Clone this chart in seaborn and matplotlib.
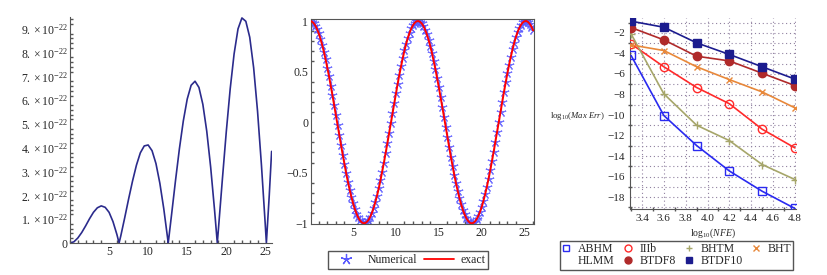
import numpy as np
import pandas as pd
import matplotlib
matplotlib.use("Agg")
import matplotlib.pyplot as plt
from matplotlib.lines import Line2D
from matplotlib.ticker import MultipleLocator, FuncFormatter
import seaborn as sns

sns.set_theme(style="white")
plt.rcParams['font.family'] = ['Liberation Serif', 'DejaVu Serif']
plt.rcParams['mathtext.fontset'] = 'custom'
plt.rcParams['mathtext.rm'] = 'Liberation Serif'
plt.rcParams['mathtext.it'] = 'Liberation Serif:italic'
plt.rcParams['axes.unicode_minus'] = True

# ------------------------------------------------------------------
# Data
# ------------------------------------------------------------------
# panel 1: absolute error, in units of 1e-22
err_t = [0, 0.5, 1.0, 1.5, 2.0, 2.5, 3.0, 3.5, 4.0, 4.5, 5.0, 5.5, 6.0, 6.28,
         6.5, 7.0, 7.5, 8.0, 8.5, 9.0, 9.5, 10.0, 10.5, 11.0, 11.5, 12.0, 12.5, 12.57,
         13.0, 13.5, 14.0, 14.5, 15.0, 15.5, 16.0, 16.5, 17.0, 17.5, 18.0, 18.5, 18.85,
         19.0, 19.5, 20.0, 20.5, 21.0, 21.5, 22.0, 22.5, 23.0, 23.5, 24.0, 24.5, 25.0, 25.13,
         25.5, 25.8]
err_val = [0, 0.05, 0.21, 0.44, 0.72, 1.02, 1.29, 1.48, 1.56, 1.50, 1.29, 0.90, 0.36, 0.0,
           0.30, 1.06, 1.85, 2.60, 3.27, 3.79, 4.08, 4.12, 3.88, 3.34, 2.51, 1.44, 0.18, 0.0,
           1.20, 2.62, 3.96, 5.13, 6.05, 6.63, 6.80, 6.54, 5.83, 4.70, 3.19, 1.38, 0.0,
           0.61, 2.68, 4.68, 6.48, 7.95, 9.00, 9.46, 9.32, 8.65, 7.37, 5.54, 3.27, 0.71, 0.0,
           2.01, 3.85]
ERR_SCALE = 1e-22

# panel 2: numerical solution vs exact (sampled every 0.2 in t)
sol_t = np.linspace(0, 26, 131)
sol_val = [1.000, 0.995, 0.980, 0.955, 0.921, 0.878, 0.825, 0.765, 0.697, 0.622,
           0.540, 0.454, 0.362, 0.267, 0.170, 0.071, -0.029, -0.129, -0.227, -0.323,
           -0.416, -0.505, -0.589, -0.666, -0.737, -0.801, -0.857, -0.904, -0.942, -0.971,
           -0.990, -0.999, -0.998, -0.987, -0.967, -0.936, -0.897, -0.848, -0.791, -0.726,
           -0.654, -0.575, -0.490, -0.401, -0.307, -0.211, -0.112, -0.012, 0.087, 0.187,
           0.284, 0.378, 0.469, 0.554, 0.635, 0.709, 0.776, 0.835, 0.886, 0.927,
           0.960, 0.983, 0.997, 1.000, 0.993, 0.977, 0.951, 0.914, 0.869, 0.816,
           0.754, 0.685, 0.608, 0.526, 0.439, 0.347, 0.252, 0.154, 0.054, -0.046,
           -0.146, -0.244, -0.340, -0.432, -0.520, -0.602, -0.678, -0.748, -0.811, -0.866,
           -0.911, -0.948, -0.975, -0.993, -1.000, -0.997, -0.984, -0.961, -0.928, -0.887,
           -0.839, -0.780, -0.714, -0.641, -0.561, -0.476, -0.385, -0.291, -0.194, -0.095,
           0.004, 0.104, 0.203, 0.300, 0.394, 0.484, 0.569, 0.648, 0.721, 0.786,
           0.844, 0.894, 0.934, 0.965, 0.987, 0.998, 1.000, 0.991, 0.973, 0.945,
           0.907]

# panel 3: log10(max err) vs log10(NFE)
log_nfe = [3.3, 3.6, 3.9, 4.2, 4.5, 4.8]
abhm = [-4.2, -10.05, -12.97, -15.45, -17.42, -19.1]
iiib = [-3.07, -5.3, -7.32, -8.9, -11.38, -13.2]
bhtm = [-2.1, -7.94, -10.99, -12.49, -14.82, -16.28]
bht = [-3.17, -3.72, -5.3, -6.55, -7.75, -9.3]
btdf8 = [-1.48, -2.68, -4.27, -4.73, -5.93, -7.13]
btdf10 = [-0.86, -1.45, -2.97, -4.1, -5.3, -6.5]

# ------------------------------------------------------------------
W, H = 828, 275
fig = plt.figure(figsize=(W / 100, H / 100), dpi=100)

def px_axes(left, top, right, bottom):
    return fig.add_axes([left / W, 1 - bottom / H, (right - left) / W, (bottom - top) / H])

FS = 8.5

# ---------------- panel 1 ----------------
ax1 = px_axes(70, 17, 272, 243)
sns.lineplot(x=err_t, y=np.array(err_val) * ERR_SCALE, ax=ax1, color='#2b2b8c', lw=1.2)
ax1.set_xlim(0, 25.85)
ax1.set_ylim(0, 9.5e-22)
ax1.set_xticks([5, 10, 15, 20, 25])
ax1.xaxis.set_minor_locator(MultipleLocator(1))
ax1.set_yticks([k * ERR_SCALE for k in range(10)])
ax1.yaxis.set_minor_locator(MultipleLocator(0.2e-22))

def err_fmt(v, pos):
    k = int(round(v / ERR_SCALE))
    if k == 0:
        return '0'
    return r'$%d.\times10^{-22}$' % k

ax1.yaxis.set_major_formatter(FuncFormatter(err_fmt))
for s in ['top', 'right']:
    ax1.spines[s].set_visible(False)
for s in ['left', 'bottom']:
    ax1.spines[s].set_color('#555555')
    ax1.spines[s].set_linewidth(0.8)
ax1.tick_params(which='both', direction='in', color='#555555', labelsize=FS, pad=2)
ax1.tick_params(which='major', length=4)
ax1.tick_params(which='minor', length=2, bottom=True, left=True)

# ---------------- panel 2 ----------------
ax2 = px_axes(311, 19, 534, 224)
sns.lineplot(x=sol_t, y=sol_val, ax=ax2, color='red', lw=1.4, zorder=3)
sns.lineplot(x=sol_t, y=sol_val, ax=ax2, linestyle='none', marker=(5, 2, 0),
             markersize=7, markeredgecolor='#5a5aff', markerfacecolor='#5a5aff',
             markeredgewidth=0.8, alpha=0.85, zorder=2)
ax2.set_xlim(0.1, 26.1)
ax2.set_ylim(-1.007, 1.02)
ax2.set_xticks([5, 10, 15, 20, 25])
ax2.xaxis.set_minor_locator(MultipleLocator(1))
ax2.set_yticks([-1, -0.5, 0, 0.5, 1])
ax2.set_yticklabels(['\u22121', '\u22120.5', '0', '0.5', '1'])
ax2.yaxis.set_minor_locator(MultipleLocator(0.1))
for s in ax2.spines.values():
    s.set_color('#555555')
    s.set_linewidth(0.8)
ax2.tick_params(which='both', direction='in', color='#555555', labelsize=FS, pad=2)
ax2.tick_params(which='major', length=4)
ax2.tick_params(which='minor', length=2, bottom=True, left=True)

leg2_handles = [
    Line2D([], [], linestyle='none', marker=(5, 2, 0), markersize=8,
           markeredgecolor='#5a5aff', markerfacecolor='#5a5aff', markeredgewidth=0.9),
    Line2D([], [], color='red', lw=1.3),
]
fig.legend(leg2_handles, ['Numerical', 'exact'], loc='center',
           bbox_to_anchor=(408 / W, 1 - 260 / H), ncol=2, fontsize=FS,
           frameon=True, fancybox=False, edgecolor='#555555', handlelength=2.6,
           handletextpad=0.5, columnspacing=0.6, borderpad=0.25, framealpha=1)

# ---------------- panel 3 ----------------
ax3 = px_axes(630, 18, 796, 209)
series = [
    ('ABHM', abhm, '#2a2af0', 's', 'none', 6),
    ('IIIb', iiib, '#ff2a2a', 'o', 'none', 6),
    ('BHTM', bhtm, '#a6a66a', '+', None, 6),
    ('BHT', bht, '#e8883a', 'x', None, 5),
    ('BTDF8', btdf8, '#b02a2a', 'o', 'fill', 6),
    ('BTDF10', btdf10, '#1c1c8e', 's', 'fill', 6),
]
for name, vals, col, mk, fc, ms in series:
    face = 'none' if fc == 'none' else col
    sns.lineplot(x=log_nfe, y=vals, ax=ax3, color=col, lw=1.2, marker=mk,
                 markersize=ms, markeredgecolor=col, markerfacecolor=face,
                 markeredgewidth=1.0, zorder=3)
ax3.set_xlim(3.29, 4.81)
ax3.set_ylim(-19.15, -0.55)
ax3.set_xticks([3.4, 3.6, 3.8, 4.0, 4.2, 4.4, 4.6, 4.8])
ax3.set_xticklabels(['3.4', '3.6', '3.8', '4.0', '4.2', '4.4', '4.6', '4.8'])
ax3.xaxis.set_minor_locator(MultipleLocator(0.1))
ax3.set_yticks(list(range(-18, 0, 2)))
ax3.set_yticklabels(['\u2212%d' % -v for v in range(-18, 0, 2)])
ax3.yaxis.set_minor_locator(MultipleLocator(1))
ax3.grid(True, which='major', axis='x', linestyle=(0, (1, 2.5)), color='#9080a0', lw=0.8)
ax3.grid(True, which='minor', axis='y', linestyle=(0, (1, 2.5)), color='#9080a0', lw=0.8)
ax3.grid(True, which='major', axis='y', linestyle=(0, (1, 2.5)), color='#9080a0', lw=0.8)
for s in ['top', 'right']:
    ax3.spines[s].set_visible(False)
for s in ['left', 'bottom']:
    ax3.spines[s].set_color('#555555')
    ax3.spines[s].set_linewidth(0.8)
ax3.tick_params(which='both', direction='inout', color='#555555', labelsize=8, pad=1)
ax3.tick_params(which='major', length=5)
ax3.tick_params(which='minor', length=2.5, bottom=True, left=True)

fig.text(550 / W, 1 - 116 / H, r'$\mathrm{log}_{10}(\mathit{Max\ Err})$', fontsize=6.3,
         ha='left', va='center')
fig.text(713 / W, 1 - 233 / H, r'$\mathrm{log}_{10}(\mathit{NFE})$', fontsize=7,
         ha='center', va='center')

def mk_handle(col, mk, face, ms):
    return Line2D([], [], linestyle='none', marker=mk, markersize=ms,
                  markeredgecolor=col, markerfacecolor=face, markeredgewidth=1.0)

h = {name: mk_handle(col, mk, 'none' if fc == 'none' else col, 5)
     for name, vals, col, mk, fc, ms in series}
h['HLMM'] = Line2D([], [], linestyle='none')
order = ['ABHM', 'HLMM', 'IIIb', 'BTDF8', 'BHTM', 'BTDF10', 'BHT']
fig.legend([h[k] for k in order], order, loc='upper left',
           bbox_to_anchor=(560 / W, 1 - 241 / H), ncol=4, fontsize=FS,
           frameon=True, fancybox=False, edgecolor='#555555', handlelength=0.7,
           handletextpad=0.6, columnspacing=0.8, borderpad=0.2, labelspacing=0.0,
           borderaxespad=0.0, framealpha=1)

fig.savefig('out.png', dpi=100)
